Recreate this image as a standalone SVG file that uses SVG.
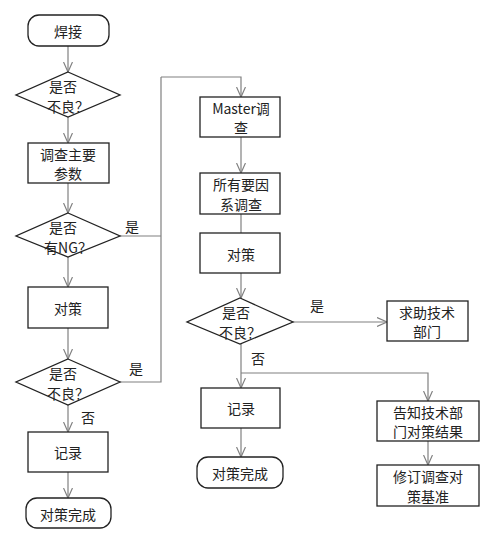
<svg xmlns="http://www.w3.org/2000/svg" width="495" height="544" viewBox="0 0 495 544">
<style>
.n{fill:#fff;stroke:#222;stroke-width:1.3}
.t{font-family:"Noto Sans CJK SC","Liberation Sans",sans-serif;font-size:14px;fill:#222;text-anchor:middle;dominant-baseline:central}
.c{fill:none;stroke:#808080;stroke-width:1.2}
.a{marker-end:url(#ar)}
</style>
<defs>
<marker id="ar" markerWidth="12" markerHeight="10" refX="10" refY="5" orient="auto" markerUnits="userSpaceOnUse">
<path d="M0,0.5 L10,5 L0,9.5" fill="none" stroke="#808080" stroke-width="1.2"/>
</marker>
</defs>
<rect width="495" height="544" fill="#fff"/>
<g id="connectors">
<path class="c a" d="M68,45 V72"/>
<path class="c a" d="M68,117 V143"/>
<path class="c a" d="M68,183 V213"/>
<path class="c a" d="M68,257 V287"/>
<path class="c a" d="M68,328 V359"/>
<path class="c a" d="M68,405 V432"/>
<path class="c a" d="M68,472 V498"/>
<path class="c" d="M120,236 H161"/>
<path class="c" d="M120,382 H161 V77"/>
<path class="c a" d="M161,77 H241 V97"/>
<path class="c a" d="M241,137 V173"/>
<path class="c" d="M241,214 V233"/>
<path class="c a" d="M241,273 V298"/>
<path class="c a" d="M293,322 H387"/>
<path class="c a" d="M241,344 V388"/>
<path class="c a" d="M241,373 H428 V401"/>
<path class="c a" d="M241,428 V457"/>
<path class="c a" d="M428,441 V465"/>
<text class="t" x="132" y="226">是</text>
<text class="t" x="136" y="368">是</text>
<text class="t" x="88" y="417">否</text>
<text class="t" x="317" y="305">是</text>
<text class="t" x="258" y="358">否</text>
</g>
<g id="n1"><rect class="n" x="28" y="15" width="81" height="31" rx="11"/><text class="t" x="68" y="31">焊接</text></g>
<g id="n2"><path class="n" d="M68,72 L120,95 L68,117 L16,95 Z"/><text class="t" x="63" y="86">是否</text><text class="t" x="68" y="106">不良？</text></g>
<g id="n3"><rect class="n" x="28" y="143" width="81" height="40"/><text class="t" x="68" y="153.5">调查主要</text><text class="t" x="68" y="173">参数</text></g>
<g id="n4"><path class="n" d="M68,213 L120,236 L68,257 L16,236 Z"/><text class="t" x="63" y="227">是否</text><text class="t" x="68" y="247">有NG？</text></g>
<g id="n5"><rect class="n" x="28" y="287" width="80" height="41"/><text class="t" x="68" y="308">对策</text></g>
<g id="n6"><path class="n" d="M68,359 L120,382 L68,405 L16,382 Z"/><text class="t" x="63" y="373">是否</text><text class="t" x="68" y="393">不良？</text></g>
<g id="n7"><rect class="n" x="28" y="432" width="80" height="40"/><text class="t" x="68" y="452">记录</text></g>
<g id="n8"><rect class="n" x="26" y="498" width="85" height="30" rx="11"/><text class="t" x="68" y="514">对策完成</text></g>
<g id="n9"><rect class="n" x="200" y="97" width="80" height="40"/><text class="t" x="241" y="108">Master调</text><text class="t" x="241" y="127">查</text></g>
<g id="n10"><rect class="n" x="200" y="173" width="80" height="41"/><text class="t" x="241" y="184">所有要因</text><text class="t" x="241" y="204">系调查</text></g>
<g id="n11"><rect class="n" x="200" y="233" width="80" height="40"/><text class="t" x="241" y="254">对策</text></g>
<g id="n12"><path class="n" d="M240,298 L293,322 L240,344 L187,322 Z"/><text class="t" x="236" y="312">是否</text><text class="t" x="240" y="332">不良？</text></g>
<g id="n13"><rect class="n" x="387" y="301" width="81" height="40"/><text class="t" x="427" y="311.5">求助技术</text><text class="t" x="427" y="331">部门</text></g>
<g id="n14"><rect class="n" x="201" y="388" width="79" height="40"/><text class="t" x="241" y="408">记录</text></g>
<g id="n15"><rect class="n" x="197" y="457" width="86" height="31" rx="11"/><text class="t" x="240" y="473">对策完成</text></g>
<g id="n16"><rect class="n" x="377" y="401" width="102" height="40"/><text class="t" x="428" y="411.5">告知技术部</text><text class="t" x="428" y="431">门对策结果</text></g>
<g id="n17"><rect class="n" x="377" y="465" width="102" height="41"/><text class="t" x="428" y="476">修订调查对</text><text class="t" x="428" y="496">策基准</text></g>
</svg>
